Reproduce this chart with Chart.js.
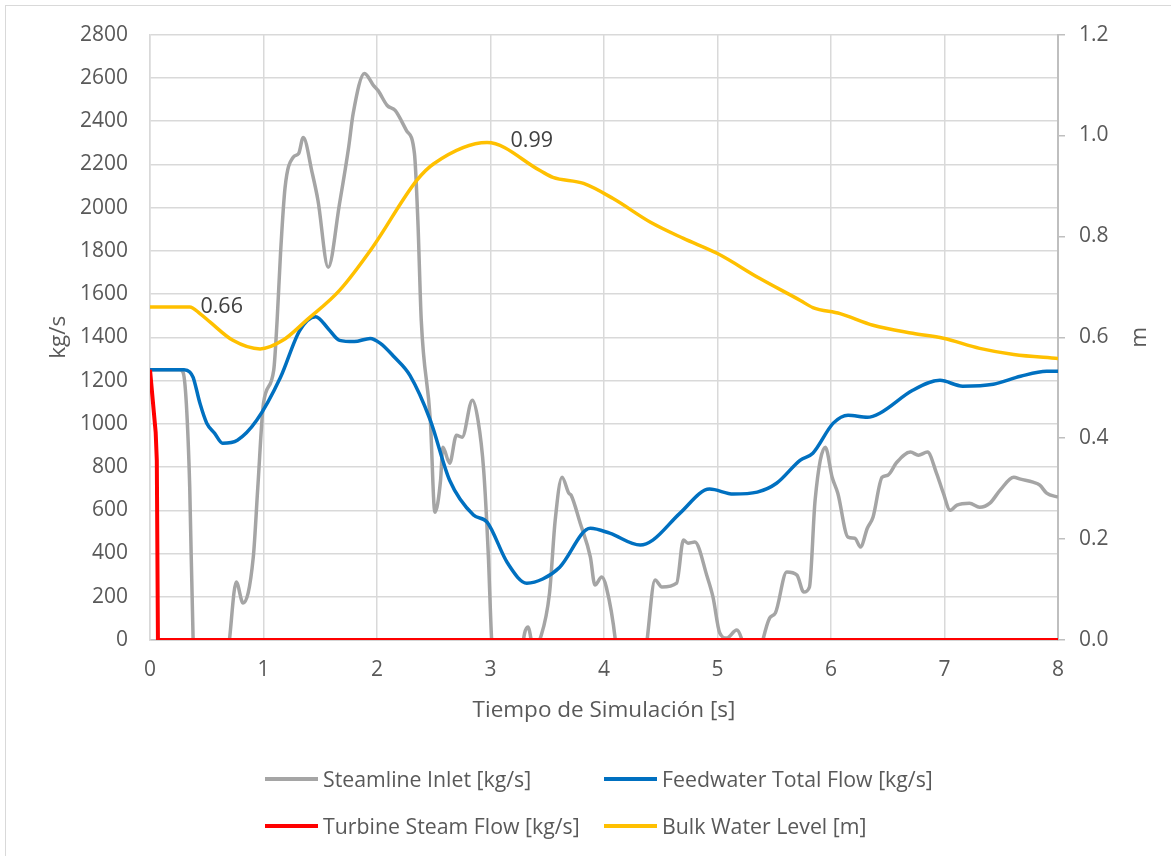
<!DOCTYPE html>
<html>
<head>
<meta charset="utf-8">
<script src="https://cdn.jsdelivr.net/npm/chart.js@4.4.1/dist/chart.umd.min.js"></script>
<style>
  body { margin: 0; background: #fff; overflow: hidden; }
  #wrap { position: relative; width: 1171px; height: 856px; overflow: hidden; }
  #frame { position: absolute; left: 5px; top: 5px; width: 1200px; height: 900px; border: 1px solid #d9d9d9; }
  #mycanvas { position: absolute; left: 0; top: 0; }
  .leg { position: absolute; font-family: "Open Sans", sans-serif; font-size: 21.3px; color: #595959; white-space: nowrap; }
  .leg span.sw { position: absolute; left: 0; top: 50%; width: 53px; height: 4px; margin-top: -2px; }
  .leg span.tx { position: absolute; left: 58px; top: 0; line-height: 28px; }
</style>
</head>
<body>
<div id="wrap">
  <div id="frame"></div>
  <canvas id="mycanvas" width="1171" height="856"></canvas>
  <div id="legend"></div>
</div>
<script>
// Steamline Inlet [kg/s]
var steamT = [0, 0.26, 0.29, 0.32, 0.35, 0.38, 0.45, 0.62, 0.70, 0.76, 0.82, 0.91, 0.95, 1.0, 1.09, 1.12, 1.15, 1.19, 1.26, 1.31, 1.35, 1.43, 1.48, 1.57, 1.67, 1.75, 1.79, 1.89, 1.97, 2.01, 2.09, 2.16, 2.26, 2.33, 2.36, 2.39, 2.47, 2.51, 2.56, 2.58, 2.64, 2.70, 2.75, 2.84, 2.89, 2.94, 2.98, 3.01, 3.06, 3.25, 3.30, 3.33, 3.38, 3.44, 3.52, 3.57, 3.63, 3.69, 3.71, 3.79, 3.88, 3.92, 3.98, 4.02, 4.10, 4.15, 4.32, 4.38, 4.45, 4.51, 4.64, 4.70, 4.74, 4.80, 4.91, 4.96, 5.02, 5.08, 5.17, 5.21, 5.26, 5.36, 5.40, 5.46, 5.51, 5.61, 5.70, 5.76, 5.81, 5.86, 5.95, 6.01, 6.06, 6.15, 6.21, 6.26, 6.32, 6.37, 6.45, 6.50, 6.58, 6.70, 6.77, 6.85, 6.93, 6.99, 7.05, 7.11, 7.22, 7.31, 7.40, 7.49, 7.61, 7.67, 7.78, 7.84, 7.90, 8.0];
var steamV = [1250, 1250, 1240, 1095, 707, 0, -400, -400, 0, 268, 171, 383, 707, 1095, 1248, 1478, 1788, 2093, 2232, 2250, 2324, 2158, 2033, 1724, 2019, 2278, 2435, 2620, 2564, 2541, 2472, 2449, 2356, 2250, 1940, 1478, 1016, 591, 739, 892, 818, 947, 938, 1109, 1016, 785, 402, 0, -300, -150, 30, 60, -40, 10, 217, 554, 753, 679, 670, 541, 383, 254, 291, 245, 0, -300, -300, 0, 277, 245, 263, 462, 448, 453, 291, 199, 32, 9, 46, 9, -100, -100, 0, 102, 125, 314, 300, 222, 245, 647, 892, 753, 679, 476, 471, 430, 517, 568, 753, 762, 822, 869, 855, 869, 771, 679, 600, 624, 633, 614, 633, 693, 753, 744, 730, 716, 679, 661];

// Feedwater Total Flow [kg/s]
var feedT = [0, 0.30, 0.35, 0.38, 0.44, 0.50, 0.57, 0.64, 0.77, 0.94, 1.15, 1.32, 1.46, 1.57, 1.67, 1.80, 1.94, 2.03, 2.15, 2.29, 2.47, 2.64, 2.85, 2.97, 3.15, 3.32, 3.46, 3.61, 3.88, 4.05, 4.32, 4.43, 4.67, 4.93, 5.14, 5.35, 5.52, 5.73, 5.84, 6.02, 6.15, 6.32, 6.43, 6.72, 6.96, 7.16, 7.43, 7.67, 7.90, 8.0];
var feedV = [1250, 1250, 1240, 1215, 1095, 1003, 956, 910, 924, 1016, 1215, 1432, 1495, 1440, 1386, 1380, 1395, 1372, 1310, 1224, 1016, 739, 578, 545, 356, 263, 282, 337, 517, 494, 439, 462, 587, 698, 675, 684, 725, 832, 864, 1003, 1040, 1030, 1049, 1155, 1201, 1174, 1183, 1220, 1243, 1243];

// Turbine Steam Flow [kg/s]
var turbT = [0, 0.05, 0.06, 0.07, 8];
var turbV = [1250, 960, 830, 0, 0];

// Bulk Water Level [m]
var levelT = [0, 0.35, 0.44, 0.53, 0.73, 0.97, 1.17, 1.38, 1.67, 1.96, 2.35, 2.50, 2.97, 3.44, 3.55, 3.82, 4.08, 4.41, 4.70, 5.0, 5.37, 5.73, 5.84, 6.08, 6.37, 6.72, 6.99, 7.31, 7.61, 8.0];
var levelV = [0.66, 0.66, 0.647, 0.63, 0.594, 0.577, 0.594, 0.634, 0.693, 0.778, 0.911, 0.944, 0.986, 0.93, 0.917, 0.905, 0.875, 0.828, 0.796, 0.766, 0.717, 0.673, 0.659, 0.647, 0.624, 0.608, 0.598, 0.578, 0.566, 0.558];

// data labels on the level curve
var labelT = [0.4, 3.0];
var labelV = [0.66, 0.99];
var labelText = ['0.66', '0.99'];

var seriesNames = ['Steamline Inlet [kg/s]', 'Feedwater Total Flow [kg/s]', 'Turbine Steam Flow [kg/s]', 'Bulk Water Level [m]'];

function pts(t, v) {
  var out = [];
  for (var i in t) {
    out.push({ x: t[i], y: v[i] });
  }
  return out;
}

var labelPlugin = {
  id: 'levelLabels',
  afterDatasetsDraw: function (chart) {
    var c = chart.ctx;
    var xs = chart.scales.x, ys = chart.scales.y1;
    var offs = [5, 20];
    c.save();
    c.font = '21.5px "Open Sans", sans-serif';
    c.fillStyle = '#404040';
    c.textAlign = 'left';
    c.textBaseline = 'middle';
    for (var i = 0; i < labelText.length; i++) {
      c.fillText(labelText[i], xs.getPixelForValue(labelT[i]) + offs[i], ys.getPixelForValue(labelV[i]));
    }
    // secondary axis title, reading bottom to top like the left one
    var area = chart.chartArea;
    c.translate(1140, (area.top + area.bottom) / 2);
    c.rotate(-Math.PI / 2);
    c.font = '22.5px "Open Sans", sans-serif';
    c.fillStyle = '#595959';
    c.textAlign = 'center';
    c.fillText('m', 0, 0);
    c.restore();
  }
};

var font = { family: '"Open Sans", sans-serif', size: 21 };
var titleFont = { family: '"Open Sans", sans-serif', size: 22.5 };

var chartdata = {
  datasets: [{
    label: seriesNames[0],
    data: pts(steamT, steamV),
    borderColor: '#A5A5A5',
    backgroundColor: '#A5A5A5',
    order: 4,
    yAxisID: 'y'
  }, {
    label: seriesNames[1],
    data: pts(feedT, feedV),
    borderColor: '#0070C0',
    backgroundColor: '#0070C0',
    order: 3,
    yAxisID: 'y'
  }, {
    label: seriesNames[2],
    data: pts(turbT, turbV),
    borderColor: '#FF0000',
    backgroundColor: '#FF0000',
    borderWidth: 4,
    tension: 0,
    cubicInterpolationMode: 'default',
    order: 1,
    yAxisID: 'y'
  }, {
    label: seriesNames[3],
    data: pts(levelT, levelV),
    borderColor: '#FFC000',
    backgroundColor: '#FFC000',
    order: 2,
    yAxisID: 'y1'
  }]
};

var ctx = document.getElementById('mycanvas');

var lineChart = new Chart(ctx, {
  type: 'line',
  data: chartdata,
  plugins: [labelPlugin],
  options: {
    responsive: false,
    animation: false,
    devicePixelRatio: 1,
    layout: { padding: { left: 0, right: 0, top: 34, bottom: 116 } },
    elements: {
      point: { radius: 0 },
      line: { borderWidth: 3.5, cubicInterpolationMode: 'monotone', fill: false }
    },
    plugins: {
      legend: { display: false },
      tooltip: { enabled: false }
    },
    scales: {
      x: {
        type: 'linear',
        min: 0,
        max: 8,
        ticks: { stepSize: 1, color: '#595959', font: font, padding: 17, maxRotation: 0 },
        grid: { color: '#d9d9d9', lineWidth: 1.5, drawTicks: false },
        border: { color: '#bfbfbf', width: 1.5 },
        title: { display: true, text: 'Tiempo de Simulación [s]', color: '#595959', font: titleFont, padding: { top: 0, bottom: 16 } },
        afterFit: function (s) { s.height = 100; }
      },
      y: {
        position: 'left',
        min: 0,
        max: 2800,
        ticks: {
          stepSize: 200, color: '#595959', font: font, padding: 22,
          callback: function (v) { return String(v); }
        },
        grid: { color: '#d9d9d9', lineWidth: 1.5, drawTicks: false },
        border: { color: '#d9d9d9', width: 1.5 },
        title: { display: true, text: 'kg/s', color: '#595959', font: titleFont, padding: { top: 45, bottom: 0 } },
        afterFit: function (s) { s.width = 150; }
      },
      y1: {
        position: 'right',
        min: 0,
        max: 1.2,
        ticks: {
          stepSize: 0.2, color: '#595959', font: font, padding: 14,
          callback: function (v) { return v.toFixed(1); }
        },
        grid: { drawOnChartArea: false, color: '#bfbfbf', lineWidth: 1.5, tickLength: 7 },
        border: { color: '#bfbfbf', width: 2 },
        title: { display: false },
        afterFit: function (s) { s.width = 113; }
      }
    }
  }
});

// legend laid out as a two-column grid below the chart
var legendPos = [[265, 765], [604, 765], [265, 812], [604, 812]];
var legHtml = '';
for (var i in chartdata.datasets) {
  var d = chartdata.datasets[i];
  legHtml += '<div class="leg" style="left:' + legendPos[i][0] + 'px;top:' + legendPos[i][1] + 'px;height:28px;width:400px">' +
    '<span class="sw" style="background:' + d.borderColor + '"></span><span class="tx">' + d.label + '</span></div>';
}
document.getElementById('legend').innerHTML = legHtml;
</script>
</body>
</html>
